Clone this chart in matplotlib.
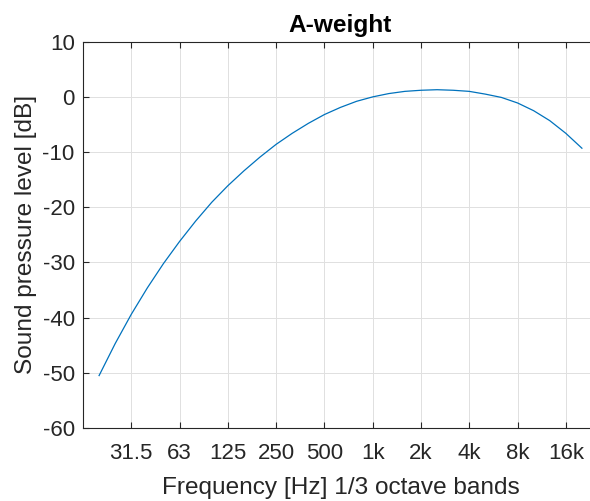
import matplotlib
matplotlib.use("Agg")
import matplotlib.pyplot as plt
import numpy as np

plt.rcParams['font.family'] = ['Liberation Sans', 'DejaVu Sans']
plt.rcParams['axes.unicode_minus'] = False

# 1/3 octave band centre frequencies (nominal) and A-weighting values
bands = ["20", "25", "31.5", "40", "50", "63", "80", "100", "125", "160", "200",
         "250", "315", "400", "500", "630", "800", "1k", "1.25k", "1.6k", "2k",
         "2.5k", "3.15k", "4k", "5k", "6.3k", "8k", "10k", "12.5k", "16k", "20k"]
a_weight = [-50.5, -44.7, -39.4, -34.6, -30.2, -26.2, -22.5, -19.1, -16.1, -13.4,
            -10.9, -8.6, -6.6, -4.8, -3.2, -1.9, -0.8, 0.0, 0.6, 1.0, 1.2, 1.3,
            1.2, 1.0, 0.5, -0.1, -1.1, -2.5, -4.3, -6.6, -9.3]
tick_labels = ["31.5", "63", "125", "250", "500", "1k", "2k", "4k", "8k", "16k"]

idx = np.arange(1, len(bands) + 1)
tick_pos = [bands.index(t) + 1 for t in tick_labels]

W, H = 590, 501
fig = plt.figure(figsize=(W / 100, H / 100), dpi=100)
left, right, top, bottom = 83, 598, 41.7, 428
ax = fig.add_axes([left / W, (H - bottom) / H, (right - left) / W, (bottom - top) / H])

ax.plot(idx, a_weight, color='#0072BD', lw=0.9)
ax.set_xlim(0, 32)
ax.set_ylim(-60, 10)
ax.set_yticks(np.arange(-60, 11, 10))
ax.set_xticks(tick_pos)
ax.set_xticklabels(tick_labels)

tc = '#262626'
ax.tick_params(direction='in', length=4, width=0.8, colors=tc, labelsize=16,
               top=True, right=True)
ax.tick_params(axis='y', pad=6)
ax.tick_params(axis='x', pad=11)
for s in ax.spines.values():
    s.set_color(tc)
    s.set_linewidth(0.8)
ax.grid(True, color='#e0e0e0', lw=0.7)
ax.set_axisbelow(True)

ax.set_title("A-weight", fontsize=17.6, fontweight='bold', color='black', pad=7)
ax.set_xlabel("Frequency [Hz] 1/3 octave bands", fontsize=17.6, color=tc, labelpad=9)
ax.set_ylabel("Sound pressure level [dB]", fontsize=17.6, color=tc, labelpad=4)

fig.savefig("out.png", dpi=100, facecolor='white')
